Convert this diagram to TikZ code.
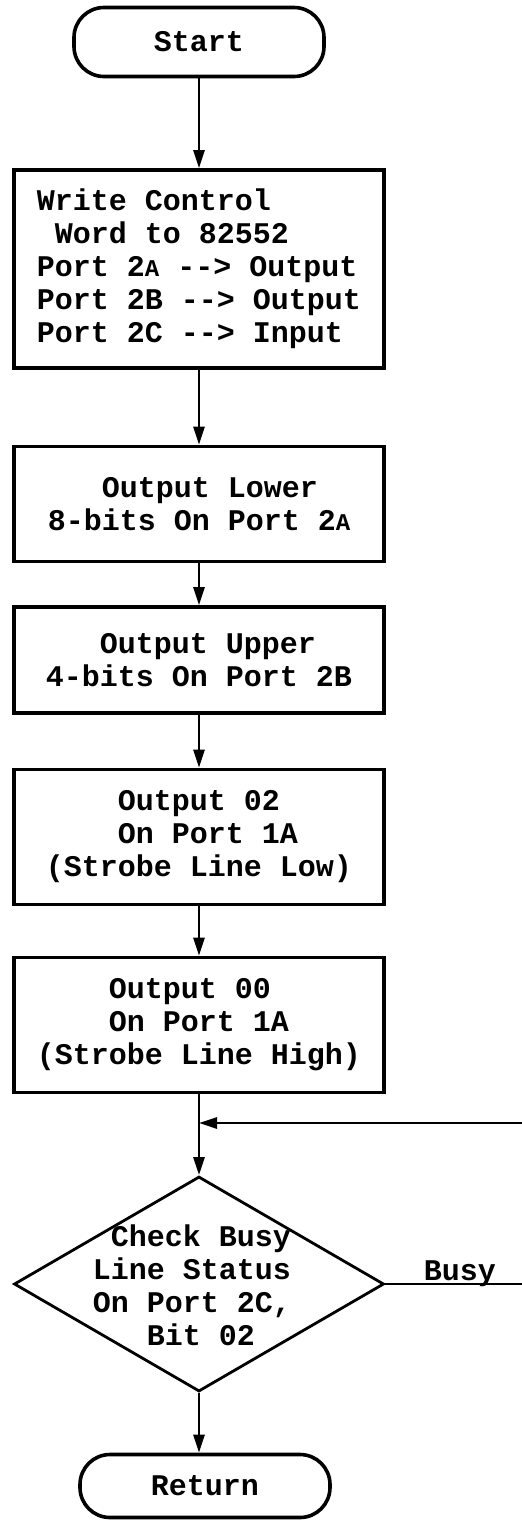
\documentclass[tikz,border=0pt]{standalone}
\usepackage{fontspec}
\setmonofont{Liberation Mono}
\usetikzlibrary{shapes.geometric,arrows.meta}

% blank columns of the typewriter text
\newcommand{\gap}[1]{\hspace*{#1\fontdimen2\font}}
\newcommand{\lowA}{{\fontsize{24}{24}\selectfont A}}

\tikzset{
    flowbox/.style={draw, line width=3.6pt, minimum width=370pt, align=left, inner sep=0pt},
    terminal/.style={draw, line width=3.6pt, rounded corners=30pt, minimum width=250pt},
    flow/.style={line width=2.8pt, -{Triangle[length=18pt,width=11pt]}},
}

\begin{document}
\begin{tikzpicture}[x=1pt, y=-1pt, every node/.style={font=\ttfamily\bfseries\fontsize{30}{33}\selectfont}]
\useasboundingbox (0,0) rectangle (522,1521);

% Start
\node[terminal, minimum height=69pt] (start) at (199,42) {Start};

% Steps
\node[flowbox, minimum height=198pt] (ctrl) at (199,269)
    {Write Control\\\gap{1}Word to 82552\\Port 2\lowA{} --> Output\\Port 2B --> Output\\Port 2C --> Input};
\node[flowbox, minimum height=115pt] (lower) at (199,504)
    {\gap{3}Output Lower\\8-bits On Port 2\lowA};
\node[flowbox, minimum height=106pt] (upper) at (199,660)
    {\gap{3}Output Upper\\4-bits On Port 2B};
\node[flowbox, minimum height=135pt] (low) at (199,837)
    {\gap{4}Output 02\\\gap{4}On Port 1A\\(Strobe Line Low)};
\node[flowbox, minimum height=135pt] (high) at (199,1025)
    {\gap{4}Output 00\\\gap{4}On Port 1A\\(Strobe Line High)};

% Decision
\node[draw, diamond, line width=2.8pt, minimum width=370pt, minimum height=215pt, inner sep=0pt] (check) at (199,1284) {};
\node[align=left, inner sep=0pt] (checktext) at (192,1285)
    {\gap{1}Check Busy\\Line Status\\On Port 2C,\\\gap{3}Bit 02};

% Return
\node[terminal, minimum height=63pt] (ret) at (205,1486) {Return};

% Busy loop ends
\coordinate (join) at (199,1123);
\coordinate (busyend) at (522,1284);
\coordinate (loopend) at (522,1123);
\node[anchor=base, inner sep=0pt] (busy) at (460,1280) {Busy};

% Connectors
\draw[flow] (start) -- (ctrl);
\draw[flow] (ctrl) -- (lower);
\draw[flow] (lower) -- (upper);
\draw[flow] (upper) -- (low);
\draw[flow] (low) -- (high);
\draw[flow] (high.south) -- (join) -- (check.north);
\draw[line width=2.8pt] (check.east) -- (busyend);
\draw[flow] (loopend) -- (join);
\draw[flow] (check.south) -- (check.south |- ret.north);

\end{tikzpicture}
\end{document}
